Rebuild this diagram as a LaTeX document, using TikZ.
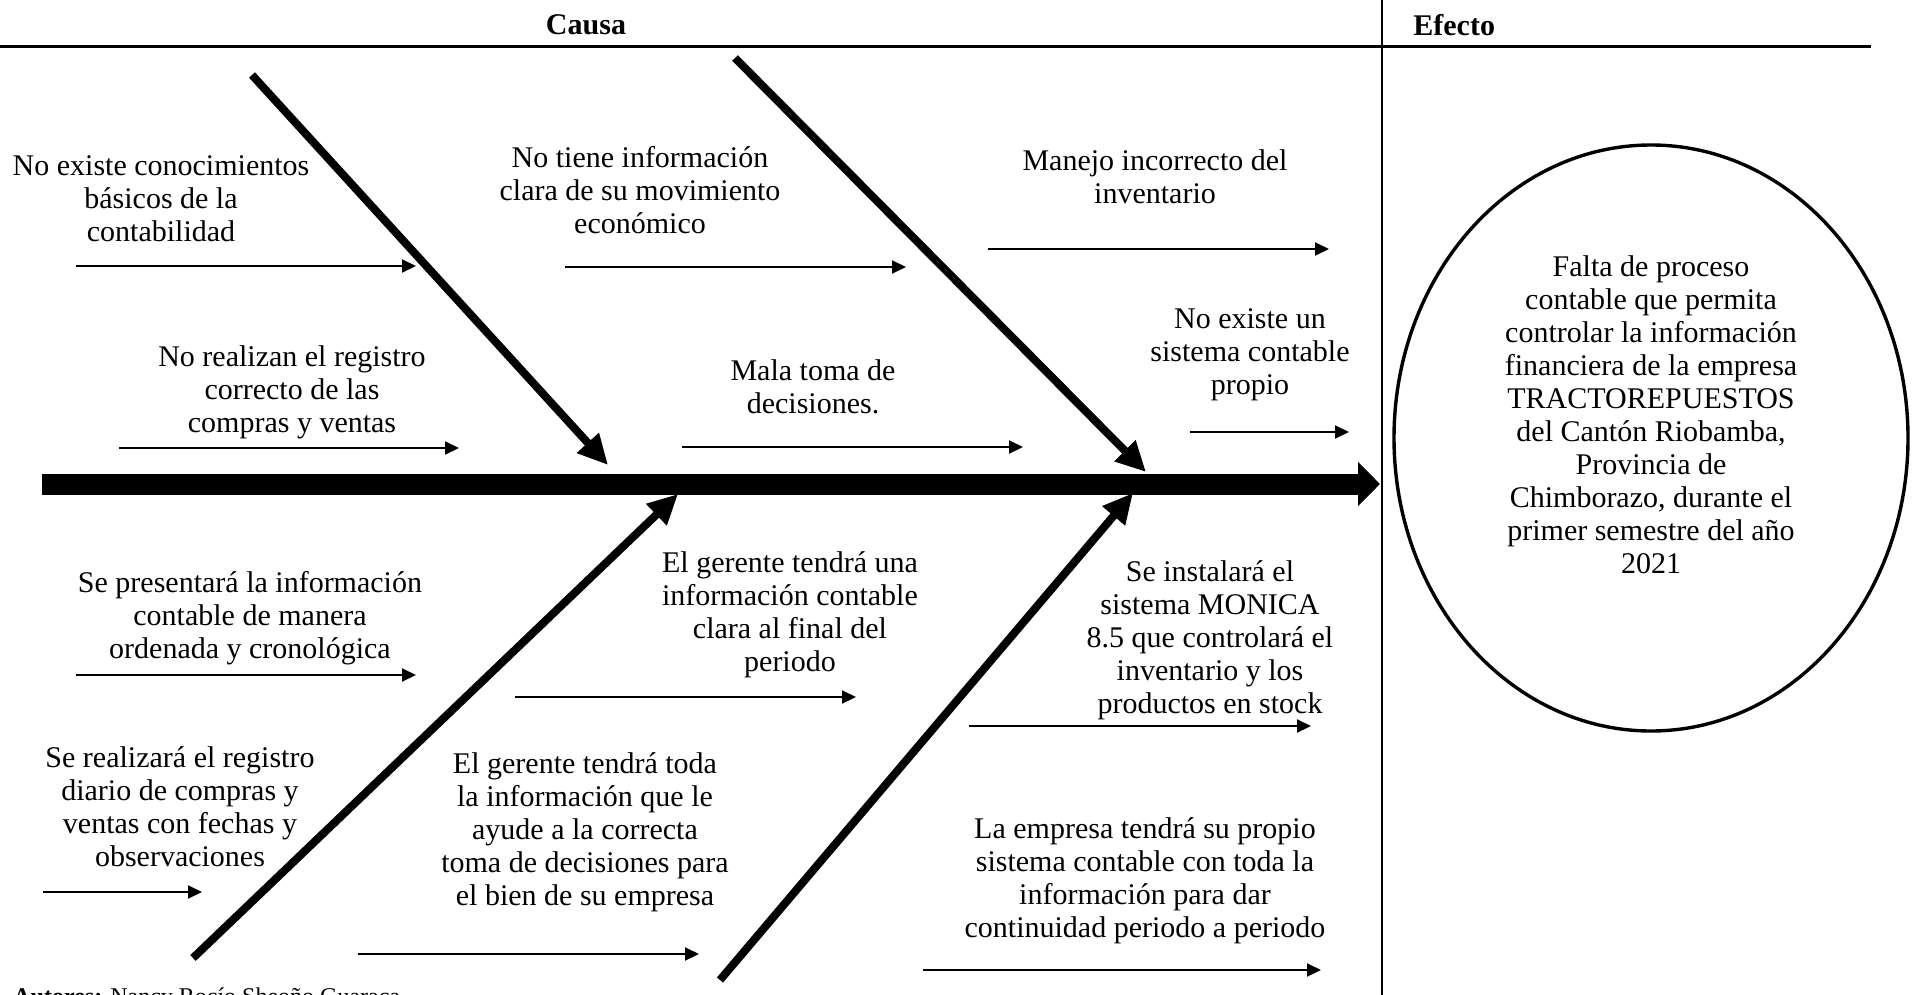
\documentclass[tikz,border=0pt]{standalone}
\usepackage{fontspec}
\setmainfont{Liberation Serif}
\usetikzlibrary{arrows.meta,shapes.geometric}

\begin{document}
\begin{tikzpicture}[x=0.5pt,y=-0.5pt,
    txt/.style={align=center, inner sep=0pt, font=\fontsize{15}{16.5}\selectfont},
    rama/.style={-{Triangle[length=7pt,width=6.5pt]}, line width=1pt},
    espina/.style={-{Triangle[length=15pt,width=14pt]}, line width=4pt}]
    \useasboundingbox (0,0) rectangle (1921,995);

    % encabezado
    \node[txt, font=\fontsize{15}{16.5}\selectfont\bfseries] (causa) at (586,25) {Causa};
    \node[txt, font=\fontsize{15}{16.5}\selectfont\bfseries, anchor=west] (efecto) at (1413,25) {Efecto};
    \coordinate (hizq) at (0,47);
    \coordinate (hder) at (1871,47);
    \draw[line width=1.5pt] (hizq) -- (hder);
    \coordinate (varr) at (1382,0);
    \coordinate (vab) at (1382,995);
    \draw[line width=1pt] (varr) -- (vab);

    % espina central
    \coordinate (cola) at (42,484);
    \coordinate (cabeza) at (1380,484);
    \draw[line width=10.5pt, -{Triangle[length=11pt,width=21.5pt]}] (cola) -- (cabeza);

    % espinas diagonales
    \coordinate (d1s) at (252,75);   \coordinate (d1e) at (608,465);
    \coordinate (d2s) at (735,58);   \coordinate (d2e) at (1146,472);
    \coordinate (d3s) at (193,958);  \coordinate (d3e) at (678,494);
    \coordinate (d4s) at (720,980);  \coordinate (d4e) at (1133,493);
    \draw[espina] (d1s) -- (d1e);
    \draw[espina] (d2s) -- (d2e);
    \draw[espina] (d3s) -- (d3e);
    \draw[espina] (d4s) -- (d4e);

    % causas
    \node[txt] (cause1) at (161,199) {No existe conocimientos\\básicos de la\\contabilidad};
    \node[txt] (cause2) at (640,190) {No tiene información\\clara de su movimiento\\económico};
    \node[txt] (cause3) at (1155,177) {Manejo incorrecto del\\inventario};
    \node[txt] (cause4) at (292,392) {No realizan el registro\\correcto de las\\compras y ventas};
    \node[txt] (cause5) at (813,387) {Mala toma de\\decisiones.};
    \node[txt] (cause6) at (1250,355) {No existe un\\sistema contable\\propio};

    \coordinate (a1s) at (76,266);   \coordinate (a1e) at (416,266);
    \coordinate (a2s) at (565,267);  \coordinate (a2e) at (906,267);
    \coordinate (a3s) at (988,249);  \coordinate (a3e) at (1329,249);
    \coordinate (b1s) at (119,448);  \coordinate (b1e) at (459,448);
    \coordinate (b2s) at (682,447);  \coordinate (b2e) at (1023,447);
    \coordinate (b3s) at (1190,432); \coordinate (b3e) at (1349,432);
    \draw[rama] (a1s) -- (a1e);
    \draw[rama] (a2s) -- (a2e);
    \draw[rama] (a3s) -- (a3e);
    \draw[rama] (b1s) -- (b1e);
    \draw[rama] (b2s) -- (b2e);
    \draw[rama] (b3s) -- (b3e);

    % soluciones
    \node[txt] (sol1) at (250,618) {Se presentará la información\\contable de manera\\ordenada y cronológica};
    \node[txt] (sol2) at (790,615) {El gerente tendrá una\\información contable\\clara al final del\\periodo};
    \node[txt] (sol3) at (1210,640) {Se instalará el\\sistema MONICA\\8.5 que controlará el\\inventario y los\\productos en stock};
    \node[txt] (sol4) at (180,807) {Se realizará el registro\\diario de compras y\\ventas con fechas y\\observaciones};
    \node[txt] (sol5) at (585,832) {El gerente tendrá toda\\la información que le\\ayude a la correcta\\toma de decisiones para\\el bien de su empresa};
    \node[txt] (sol6) at (1145,881) {La empresa tendrá su propio\\sistema contable con toda la\\información para dar\\continuidad periodo a periodo};

    \coordinate (c1s) at (76,675);   \coordinate (c1e) at (416,675);
    \coordinate (c2s) at (515,697);  \coordinate (c2e) at (856,697);
    \coordinate (c3s) at (969,726);  \coordinate (c3e) at (1311,726);
    \coordinate (e1s) at (43,892);   \coordinate (e1e) at (202,892);
    \coordinate (e2s) at (358,954);  \coordinate (e2e) at (699,954);
    \coordinate (e3s) at (923,970);  \coordinate (e3e) at (1321,970);
    \draw[rama] (c1s) -- (c1e);
    \draw[rama] (c2s) -- (c2e);
    \draw[rama] (c3s) -- (c3e);
    \draw[rama] (e1s) -- (e1e);
    \draw[rama] (e2s) -- (e2e);
    \draw[rama] (e3s) -- (e3e);

    % efecto
    \node[draw, ellipse, line width=1.7pt, minimum width=257pt, minimum height=293pt, inner sep=0pt] (ovalo) at (1651,438) {};
    \node[txt] (efectotxt) at (1651,415) {Falta de proceso\\contable que permita\\controlar la información\\financiera de la empresa\\TRACTOREPUESTOS\\del Cantón Riobamba,\\Provincia de\\Chimborazo, durante el\\primer semestre del año\\2021};

    \node[anchor=base west, inner sep=0pt, font=\fontsize{12}{14}\selectfont] (autores) at (13,1004) {\textbf{Autores:} Nancy Rocío Sheoño Guaraca};
\end{tikzpicture}
\end{document}
